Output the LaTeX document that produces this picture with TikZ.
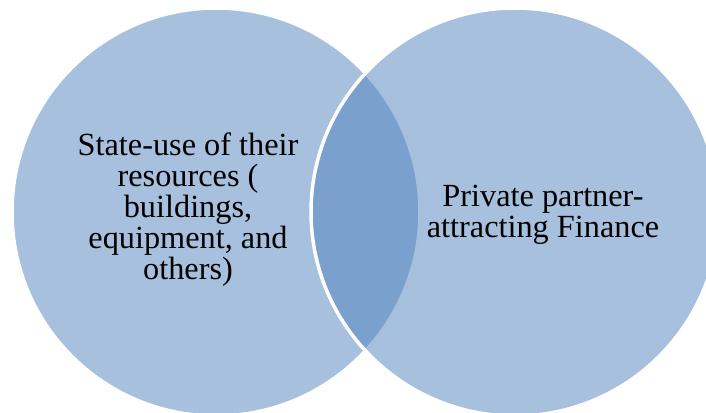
\documentclass[tikz,border=0pt]{standalone}
\usepackage{fontspec}
\setmainfont{Liberation Serif}
\definecolor{vennblue}{HTML}{4F81BD}
\tikzset{
  venn/.style={fill=vennblue, fill opacity=0.5, draw=white, draw opacity=1, line width=3.5pt},
  venntext/.style={align=center, text=black, font=\fontsize{32.3}{30.8}\selectfont, inner sep=0pt}
}
\begin{document}
\begin{tikzpicture}[x=1pt,y=-1pt]
  \useasboundingbox (0,0) rectangle (706,412);
  \clip (0,0) rectangle (706,412);
  % two overlapping sets; the overlap darkens through transparency
  \path[venn] (216,212) circle[radius=204];
  \path[venn] (515,212) circle[radius=204];
  % base anchor sits on the last line's baseline
  \node[venntext, anchor=base] (left) at (188,279)
    {State-use of their\\resources (\\buildings,\\equipment, and\\others)};
  \node[venntext, anchor=base] (right) at (543,237)
    {Private partner-\\attracting Finance};
\end{tikzpicture}
\end{document}
